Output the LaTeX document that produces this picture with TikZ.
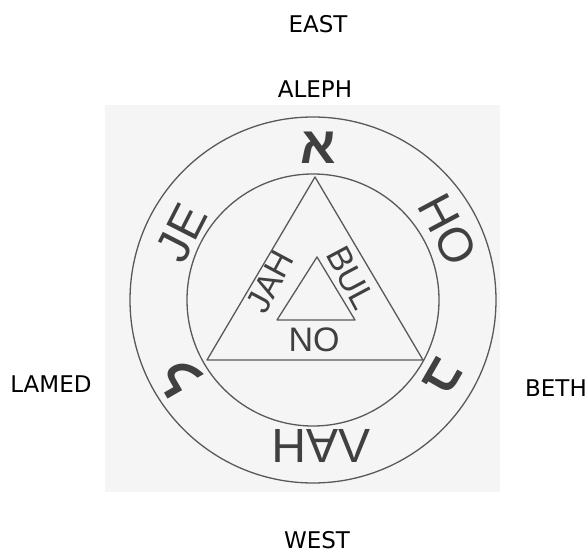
\documentclass[tikz,border=0pt]{standalone}
\usepackage{fontspec}
\setmainfont{DejaVu Sans}
\newfontfamily\sealfont{Liberation Sans}
\newfontfamily\hebfont[Script=Hebrew]{Liberation Sans}
\usetikzlibrary{positioning}

\begin{document}
\begin{tikzpicture}[x=1pt,y=-1pt,
	compass/.style={font=\fontsize{23}{23}\selectfont, text=black, inner sep=0pt},
	ringword/.style={font=\sealfont\fontsize{48}{48}\selectfont, text=black!75, inner sep=0pt},
	innerword/.style={font=\sealfont\fontsize{34}{34}\selectfont, text=black!75, inner sep=0pt},
	hebletter/.style={font=\hebfont\bfseries\fontsize{52}{52}\selectfont, text=black!75, inner sep=0pt},
	sealline/.style={line width=1.3pt, draw=black!65, line join=round}
	]
	
	\useasboundingbox (0,0) rectangle (587,553);
	
	% Scanned page
	\fill[black!4] (105,105) rectangle (500,492);
	
	% Rings
	\coordinate (c) at (313,300);
	\draw[sealline] (c) circle[radius=183];
	\draw[sealline] (c) circle[radius=126];
	
	% Triangles
	\coordinate (top) at (315,177);
	\coordinate (bl) at (207,360);
	\coordinate (br) at (423,360);
	\draw[sealline] (top) -- (bl) -- (br) -- cycle;
	\coordinate (stop) at (317,257);
	\coordinate (sbl) at (277,320);
	\coordinate (sbr) at (355,320);
	\draw[sealline] (stop) -- (sbl) -- (sbr) -- cycle;
	
	% Words of the seal
	\node[ringword, rotate=63] (je) at (182,233) {JE};
	\node[ringword, rotate=-62] (ho) at (448,230) {HO};
	\node[ringword, rotate=180] (vah) at (321,446) {\rotatebox[origin=c]{180}{V}AH};
	\node[innerword, rotate=62] (jah) at (270,282) {JAH};
	\node[innerword, rotate=-62] (bul) at (351,278) {BUL};
	\node[innerword] (no) at (314,340) {NO};
	
	% Hebrew letters
	\node[hebletter] (aleph) at (318,148) {א};
	\node[hebletter, rotate=120] (lamed) at (180,377) {ל};
	\node[hebletter, rotate=-120] (beth) at (443,377) {ב};
	
	% Quarters
	\node[compass] (east) at (318,24) {EAST};
	\node[compass] (alephname) at (315,89) {ALEPH};
	\node[compass] (lamedname) at (51,384) {LAMED};
	\node[compass] (bethname) at (556,388) {BETH};
	\node[compass] (west) at (317,540) {WEST};
	
\end{tikzpicture}
\end{document}
